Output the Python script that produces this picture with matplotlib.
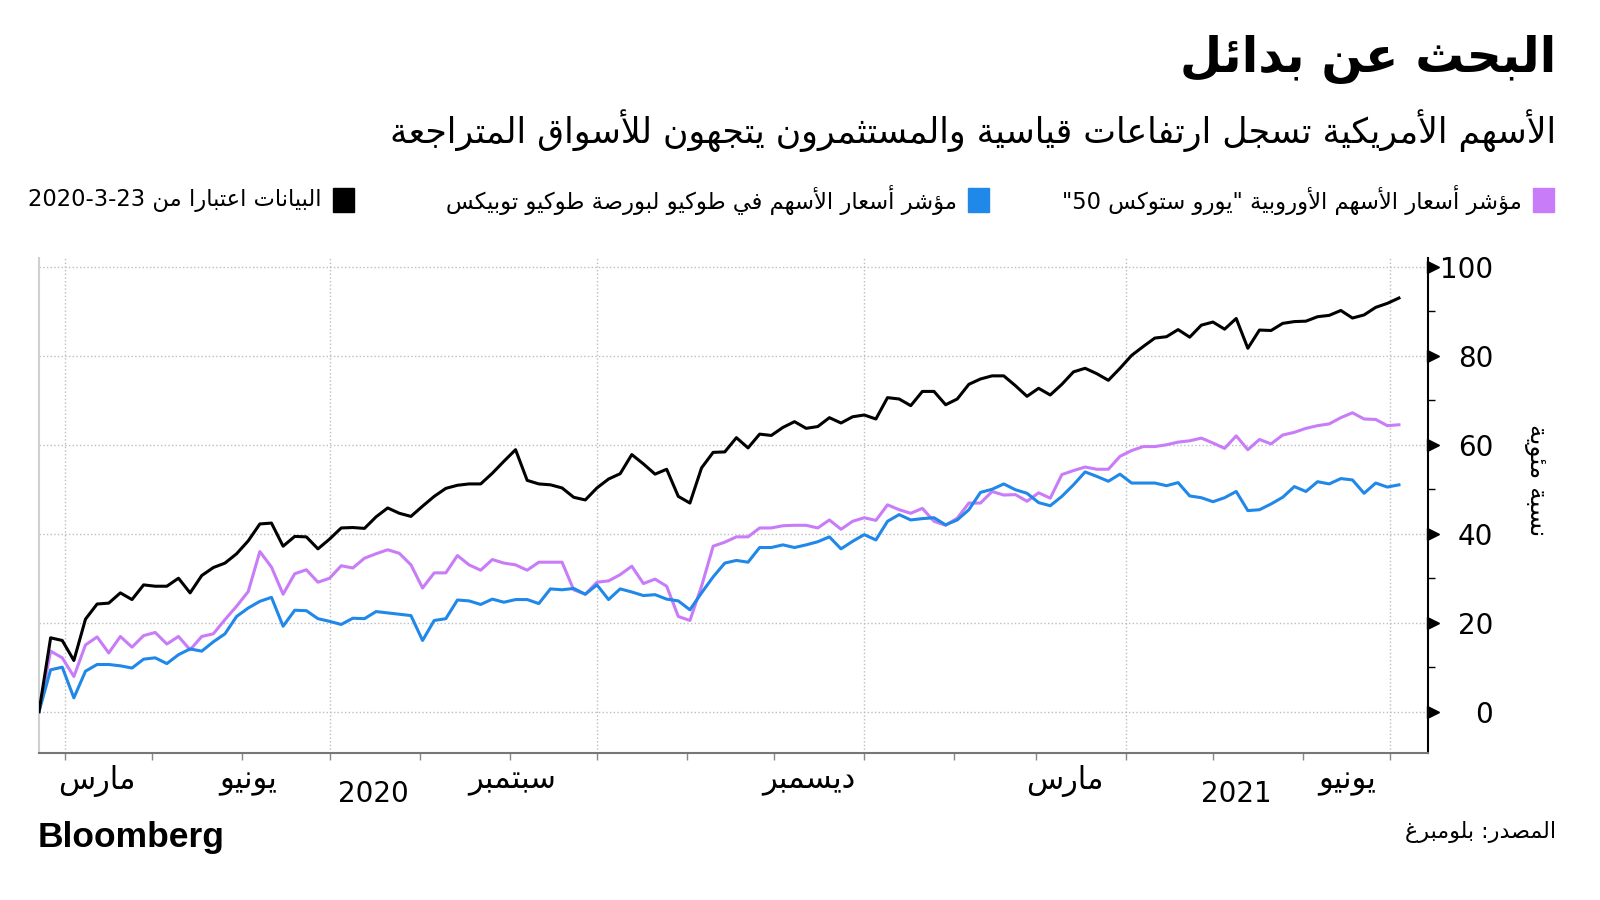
import re
import numpy as np
import pandas as pd
import matplotlib
matplotlib.use('Agg')
import matplotlib.pyplot as plt
import matplotlib.dates as mdates
from matplotlib.ticker import NullFormatter
from matplotlib.patches import Rectangle

# النصوص
TITLE = 'البحث عن بدائل'
SUBTITLE = 'الأسهم الأمريكية تسجل ارتفاعات قياسية والمستثمرون يتجهون للأسواق المتراجعة'
LEGEND_LABELS = ['مؤشر أسعار الأسهم الأوروبية "يورو ستوكس 50"',
                 'مؤشر أسعار الأسهم في طوكيو لبورصة طوكيو توبيكس',
                 'البيانات اعتبارا من 2020-3-23']
Y_LABEL = 'نسبة مئوية'
SOURCE = 'المصدر: بلومبرغ'
MONTH_LABELS = ['مارس', 'يونيو', 'سبتمبر', 'ديسمبر', 'مارس', 'يونيو']
MONTH_LABEL_DATES = ['2020-04-12', '2020-06-03', '2020-09-02', '2020-12-13', '2021-03-11', '2021-06-16']
YEAR_LABELS = ['2020', '2021']
YEAR_LABEL_DATES = ['2020-07-16', '2021-05-09']

# البيانات: التغير بالنسبة المئوية منذ 23-3-2020، نقطة كل 4 أيام
START = '2020-03-23'
STEP = '4D'

sp500 = [0, 16.6, 16.0, 11.5, 20.8, 24.2, 24.4, 26.7, 25.2, 28.5,
         28.2, 28.2, 30.0, 26.7, 30.6, 32.4, 33.4, 35.5, 38.4, 42.2,
         42.4, 37.2, 39.4, 39.3, 36.6, 38.8, 41.3, 41.4, 41.2, 43.8,
         45.8, 44.6, 43.9, 46.2, 48.4, 50.2, 50.9, 51.2, 51.2, 53.6,
         56.3, 58.9, 52.0, 51.2, 51.0, 50.3, 48.2, 47.6, 50.3, 52.3,
         53.5, 57.8, 55.7, 53.4, 54.5, 48.4, 46.9, 54.8, 58.3, 58.4,
         61.6, 59.3, 62.4, 62.1, 63.9, 65.2, 63.7, 64.1, 66.1, 64.9,
         66.3, 66.7, 65.8, 70.6, 70.3, 68.8, 72.0, 72.0, 69.0, 70.3,
         73.6, 74.8, 75.5, 75.5, 73.3, 70.9, 72.7, 71.2, 73.6, 76.4,
         77.2, 76.0, 74.5, 77.2, 80.1, 82.1, 84.0, 84.3, 85.9, 84.2,
         86.9, 87.6, 86.0, 88.4, 81.7, 85.8, 85.7, 87.3, 87.7, 87.8,
         88.8, 89.1, 90.2, 88.5, 89.2, 90.9, 91.8, 93.0]

stoxx50 = [0, 13.6, 12.1, 7.9, 15.0, 16.8, 13.2, 16.9, 14.5, 17.1,
           17.8, 15.2, 16.9, 13.9, 16.9, 17.5, 20.7, 23.7, 27.0, 36.0,
           32.5, 26.4, 31.0, 31.9, 29.1, 30.0, 32.8, 32.3, 34.5, 35.5,
           36.4, 35.6, 33.0, 27.8, 31.2, 31.2, 35.1, 33.0, 31.8, 34.2,
           33.4, 33.0, 31.8, 33.6, 33.6, 33.6, 27.4, 26.4, 29.1, 29.4,
           30.8, 32.7, 28.8, 29.8, 28.2, 21.4, 20.5, 28.2, 37.2, 38.1,
           39.3, 39.3, 41.3, 41.3, 41.8, 41.9, 41.9, 41.3, 43.1, 41.0,
           42.8, 43.6, 43.0, 46.5, 45.4, 44.6, 45.7, 42.8, 41.9, 43.5,
           46.9, 46.9, 49.5, 48.7, 48.8, 47.3, 49.2, 48.0, 53.3, 54.2,
           55.0, 54.5, 54.5, 57.4, 58.7, 59.6, 59.6, 60.0, 60.6, 60.9,
           61.5, 60.4, 59.2, 62.0, 58.9, 61.2, 60.2, 62.2, 62.8, 63.7,
           64.3, 64.7, 66.1, 67.2, 65.8, 65.7, 64.3, 64.5]

topix = [0, 9.4, 10.0, 3.1, 9.1, 10.6, 10.6, 10.3, 9.8, 11.8,
         12.1, 10.8, 12.8, 14.1, 13.6, 15.7, 17.5, 21.4, 23.3, 24.8,
         25.7, 19.2, 22.8, 22.7, 20.9, 20.3, 19.6, 21.0, 20.9, 22.5,
         22.2, 21.9, 21.6, 16.0, 20.5, 20.9, 25.1, 24.9, 24.1, 25.3,
         24.6, 25.2, 25.2, 24.3, 27.6, 27.4, 27.7, 26.4, 28.5, 25.2,
         27.6, 26.9, 26.1, 26.3, 25.3, 24.9, 22.9, 26.7, 30.3, 33.4,
         34.0, 33.6, 36.9, 36.9, 37.5, 36.9, 37.5, 38.2, 39.3, 36.6,
         38.3, 39.8, 38.6, 42.8, 44.3, 43.1, 43.4, 43.6, 42.0, 43.1,
         45.4, 49.3, 50.0, 51.2, 49.9, 49.1, 47.0, 46.3, 48.4, 51.0,
         53.9, 52.9, 51.8, 53.4, 51.4, 51.4, 51.4, 50.8, 51.5, 48.5,
         48.1, 47.2, 48.1, 49.5, 45.2, 45.4, 46.7, 48.2, 50.6, 49.5,
         51.7, 51.2, 52.4, 52.1, 49.1, 51.4, 50.5, 51.0]

COLORS = ['#c87cf7', '#1f88e8', '#000000']

# تشكيل الحروف العربية (صيغ العرض) وعكس الاتجاه للعرض
D_BASE = {'ئ': 0xFE89, 'ب': 0xFE8F, 'ت': 0xFE95, 'ث': 0xFE99, 'ج': 0xFE9D, 'ح': 0xFEA1,
          'خ': 0xFEA5, 'س': 0xFEB1, 'ش': 0xFEB5, 'ص': 0xFEB9, 'ض': 0xFEBD, 'ط': 0xFEC1,
          'ظ': 0xFEC5, 'ع': 0xFEC9, 'غ': 0xFECD, 'ف': 0xFED1, 'ق': 0xFED5, 'ك': 0xFED9,
          'ل': 0xFEDD, 'م': 0xFEE1, 'ن': 0xFEE5, 'ه': 0xFEE9, 'ي': 0xFEF1}
R_BASE = {'آ': 0xFE81, 'أ': 0xFE83, 'ؤ': 0xFE85, 'إ': 0xFE87, 'ا': 0xFE8D, 'ة': 0xFE93,
          'د': 0xFEA9, 'ذ': 0xFEAB, 'ر': 0xFEAD, 'ز': 0xFEAF, 'و': 0xFEED, 'ى': 0xFEEF}
LAM_ALEF = {'آ': 0xFEF5, 'أ': 0xFEF7, 'إ': 0xFEF9, 'ا': 0xFEFB}


def shape(text):
    toks = []
    i = 0
    while i < len(text):
        c = text[i]
        if c == 'ل' and i + 1 < len(text) and text[i + 1] in LAM_ALEF:
            toks.append(('R', LAM_ALEF[text[i + 1]]))
            i += 2
            continue
        if c in D_BASE:
            toks.append(('D', D_BASE[c]))
        elif c in R_BASE:
            toks.append(('R', R_BASE[c]))
        else:
            toks.append(('U', c))
        i += 1
    out = []
    for k, (t, v) in enumerate(toks):
        if t == 'U':
            out.append(v)
            continue
        prev_ok = k > 0 and toks[k - 1][0] == 'D'
        next_ok = t == 'D' and k + 1 < len(toks) and toks[k + 1][0] in ('D', 'R')
        if t == 'D':
            off = 3 if (prev_ok and next_ok) else 1 if prev_ok else 2 if next_ok else 0
        else:
            off = 1 if prev_ok else 0
        out.append(chr(v + off))
    return ''.join(out)


def ar(text):
    parts = re.findall(r'\d+(?:[-.:]\d+)*|.', shape(text))
    return ''.join(reversed(parts))


AR_FONT = 'DejaVu Sans'
NUM_FONT = 'DejaVu Sans'

dates = pd.date_range(START, periods=len(sp500), freq=STEP)

fig = plt.figure(figsize=(16, 9), dpi=100)
W, H = 1600, 900
ax = fig.add_axes([39 / W, 1 - 753 / H, (1428 - 39) / W, (753 - 258) / H])

for vals, col, z in zip([stoxx50, topix, sp500], COLORS, [2, 3, 4]):
    ax.plot(dates, vals, color=col, lw=2.2, zorder=z, solid_joinstyle='round')

ax.set_xlim(pd.Timestamp('2020-03-23'), pd.Timestamp('2021-07-14'))
ax.set_ylim(-9.3, 102)

ax.xaxis.set_major_locator(mdates.MonthLocator(bymonth=[1, 4, 7, 10]))
ax.xaxis.set_minor_locator(mdates.MonthLocator())
ax.xaxis.set_major_formatter(NullFormatter())
ax.tick_params(axis='x', which='both', length=5, width=1, color='#888888',
               direction='out', labelbottom=False)

yt = list(range(0, 101, 20))
ax.yaxis.tick_right()
ax.set_yticks(yt)
ax.set_yticks(range(10, 100, 20), minor=True)
ax.tick_params(axis='y', which='major', length=0, pad=47, labelsize=20)
ax.tick_params(axis='y', which='minor', length=5, width=1, color='black')
for lab in ax.get_yticklabels():
    lab.set_horizontalalignment('right')
    lab.set_fontfamily(NUM_FONT)

ax.grid(True, which='major', linestyle=':', color='#bdbdbd', lw=1)
ax.plot(np.full(len(yt), 1 + 5 / 1389), yt, transform=ax.get_yaxis_transform(),
        marker='>', ls='none', ms=8, color='black', clip_on=False)

ax.spines['top'].set_visible(False)
ax.spines['left'].set_color('#d0d0d0')
ax.spines['left'].set_linewidth(1.5)
ax.spines['bottom'].set_color('#777777')
ax.spines['bottom'].set_linewidth(1.5)
ax.spines['right'].set_color('black')
ax.spines['right'].set_linewidth(1.5)

for lab, d in zip(MONTH_LABELS, MONTH_LABEL_DATES):
    ax.annotate(ar(lab), xy=(pd.Timestamp(d), 0), xycoords=('data', 'axes fraction'),
                xytext=(0, -28), textcoords='offset pixels', ha='center', va='center',
                fontsize=22, family=AR_FONT)
for lab, d in zip(YEAR_LABELS, YEAR_LABEL_DATES):
    ax.annotate(lab, xy=(pd.Timestamp(d), 0), xycoords=('data', 'axes fraction'),
                xytext=(0, -41), textcoords='offset pixels', ha='center', va='center',
                fontsize=20, family=NUM_FONT)

# العنوان والعنوان الفرعي
fig.text(1556 / W, 1 - 59 / H, ar(TITLE), ha='right', va='center', fontsize=35,
         fontweight='bold', family=AR_FONT)
fig.text(1556 / W, 1 - 131 / H, ar(SUBTITLE), ha='right', va='center', fontsize=25,
         family=AR_FONT)

# وسيلة الإيضاح
leg_sq = [1533, 968, 333]
for lab, col, x0 in zip(LEGEND_LABELS, COLORS, leg_sq):
    fig.patches.append(Rectangle((x0 / W, 1 - 212 / H), 21 / W, 24 / H,
                                 transform=fig.transFigure, color=col))
    fig.text((x0 - 11) / W, 1 - 200 / H, ar(lab), ha='right', va='center',
             fontsize=16.3, family=AR_FONT)

fig.text(1536 / W, 1 - 480 / H, ar(Y_LABEL), rotation=270, ha='center', va='center',
         fontsize=18, family=AR_FONT)

fig.text(38 / W, 1 - 837 / H, 'Bloomberg', ha='left', va='center', fontsize=25.5,
         fontweight='bold', family='Liberation Sans')
fig.text(1556 / W, 1 - 832 / H, ar(SOURCE), ha='right', va='center', fontsize=16,
         family=AR_FONT)

fig.savefig('out.png', dpi=100)
